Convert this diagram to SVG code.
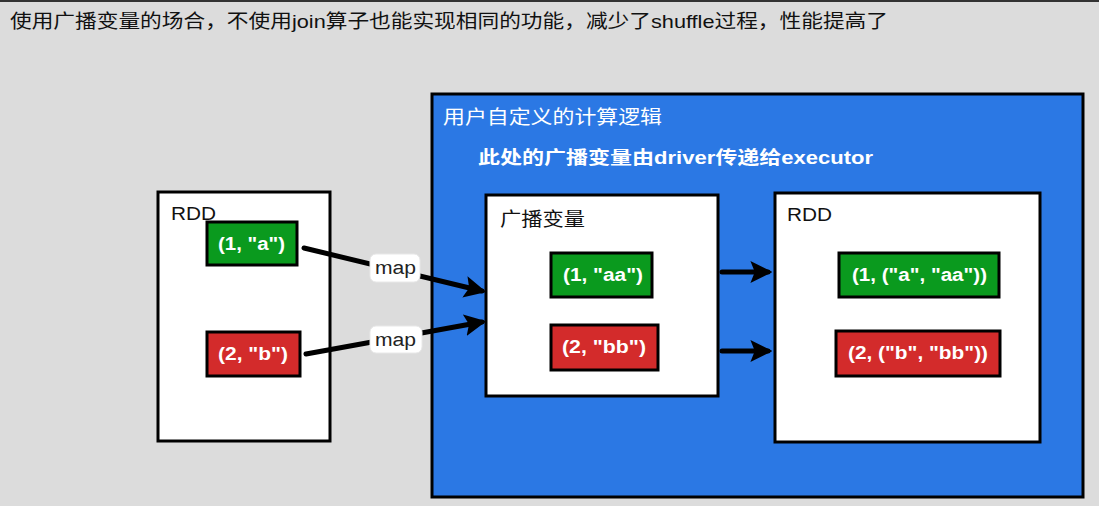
<svg xmlns="http://www.w3.org/2000/svg" width="1099" height="506" viewBox="0 0 1099 506">
<defs>
<style>
.t{font-family:"Liberation Sans","Noto Sans CJK SC",sans-serif;font-size:18px}
.c{font-size:19px}
.box{fill:#ffffff;stroke:#000;stroke-width:3}
.g{fill:#0a9a1e;stroke:#000;stroke-width:3}
.r{fill:#d32b2b;stroke:#000;stroke-width:3}
.w{fill:#ffffff;font-weight:bold}
.conn{stroke:#000;stroke-width:5;fill:none;stroke-linecap:round}
.lbl{fill:#ffffff;stroke:#e8e8e8;stroke-width:1}
</style>
<marker id="ah" viewBox="0 0 10 10" refX="8" refY="5" markerWidth="4.4" markerHeight="4.4" orient="auto" markerUnits="strokeWidth">
<path d="M0,0 L10,5 L0,10 L2,5 Z" fill="#000"/>
</marker>
</defs>
<rect width="1099" height="506" fill="#dcdcdc"/>
<rect x="0" y="0" width="1099" height="2" fill="#333"/>
<g id="title"><text class="t c" x="10" y="28" fill="#111" textLength="878" lengthAdjust="spacingAndGlyphs">使用广播变量的场合，不使用join算子也能实现相同的功能，减少了shuffle过程，性能提高了</text></g>

<g id="rdd-left">
<rect class="box" x="158" y="192" width="172" height="249"/>
<text class="t" x="171" y="220" fill="#111" textLength="45" lengthAdjust="spacingAndGlyphs">RDD</text>
</g>
<g id="left-1a">
<rect class="g" x="207" y="222" width="90" height="43"/>
<text class="t w" x="218" y="250" textLength="67" lengthAdjust="spacingAndGlyphs">(1, "a")</text>
</g>
<g id="left-2b">
<rect class="r" x="207" y="332" width="93" height="44"/>
<text class="t w" x="218" y="360" textLength="70" lengthAdjust="spacingAndGlyphs">(2, "b")</text>
</g>

<g id="logic">
<rect x="432" y="94" width="651" height="403" fill="#2b78e4" stroke="#000" stroke-width="3"/>
<text class="t c" x="443" y="124" fill="#fff" textLength="219" lengthAdjust="spacingAndGlyphs">用户自定义的计算逻辑</text>
<text class="t" x="478" y="164" fill="#fff" font-weight="bold" textLength="395" lengthAdjust="spacingAndGlyphs">此处的广播变量由driver传递给executor</text>
</g>

<g id="broadcast">
<rect class="box" x="486" y="195" width="232" height="201"/>
<text class="t c" x="500" y="226" fill="#111" textLength="85" lengthAdjust="spacingAndGlyphs">广播变量</text>
</g>
<g id="bc-1aa">
<rect class="g" x="551" y="253" width="101" height="44"/>
<text class="t w" x="563" y="281" textLength="80" lengthAdjust="spacingAndGlyphs">(1, "aa")</text>
</g>
<g id="bc-2bb">
<rect class="r" x="551" y="325" width="107" height="45"/>
<text class="t w" x="562" y="353" textLength="84" lengthAdjust="spacingAndGlyphs">(2, "bb")</text>
</g>

<g id="rdd-right">
<rect class="box" x="775" y="193" width="265" height="249"/>
<text class="t" x="787" y="221" fill="#111" textLength="45" lengthAdjust="spacingAndGlyphs">RDD</text>
</g>
<g id="right-1">
<rect class="g" x="839" y="253" width="160" height="44"/>
<text class="t w" x="852" y="281" textLength="135" lengthAdjust="spacingAndGlyphs">(1, ("a", "aa"))</text>
</g>
<g id="right-2">
<rect class="r" x="836" y="331" width="164" height="45"/>
<text class="t w" x="848" y="359" textLength="140" lengthAdjust="spacingAndGlyphs">(2, ("b", "bb"))</text>
</g>

<g id="connectors">
<line class="conn" x1="304" y1="248" x2="482" y2="291" marker-end="url(#ah)"/>
<line class="conn" x1="306" y1="354" x2="482" y2="322" marker-end="url(#ah)"/>
<line class="conn" x1="722" y1="272" x2="768" y2="272" marker-end="url(#ah)"/>
<line class="conn" x1="722" y1="351" x2="768" y2="351" marker-end="url(#ah)"/>
<rect class="lbl" x="370" y="254" width="50" height="28" rx="6"/>
<text class="t" x="375" y="274" fill="#222" textLength="41" lengthAdjust="spacingAndGlyphs">map</text>
<rect class="lbl" x="370" y="326" width="52" height="27" rx="6"/>
<text class="t" x="375" y="346" fill="#222" textLength="41" lengthAdjust="spacingAndGlyphs">map</text>
</g>
</svg>
